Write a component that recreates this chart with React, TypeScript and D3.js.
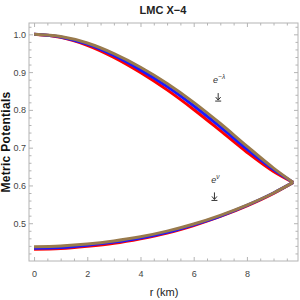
import * as d3 from 'd3';
import { useEffect, useRef } from 'react';

const radius = [0, 1, 2, 3, 4, 5, 6, 7, 8, 9, 9.74];

// e^{-lambda} for the three models
const lambdaRed = [1.0, 0.992, 0.971, 0.939, 0.899, 0.853, 0.801, 0.745, 0.688, 0.637, 0.608];
const lambdaBlue = [1.0, 0.993, 0.974, 0.944, 0.906, 0.862, 0.811, 0.755, 0.696, 0.642, 0.608];
const lambdaBrown = [1.0, 0.994, 0.977, 0.949, 0.913, 0.87, 0.82, 0.764, 0.704, 0.646, 0.608];

// e^{nu}
const nuRed = [0.431, 0.433, 0.439, 0.447, 0.459, 0.474, 0.494, 0.518, 0.546, 0.579, 0.608];
const nuBlue = [0.434, 0.436, 0.442, 0.45, 0.461, 0.476, 0.496, 0.519, 0.547, 0.58, 0.608];
const nuBrown = [0.438, 0.44, 0.445, 0.453, 0.464, 0.479, 0.498, 0.521, 0.548, 0.58, 0.608];

const xMajor = [0, 2, 4, 6, 8];
const yMajor = [0.5, 0.6, 0.7, 0.8, 0.9, 1.0];

const series = [
  { name: 'red', color: '#ff0000', lambda: lambdaRed, nu: nuRed },
  { name: 'blue', color: '#1a1aff', lambda: lambdaBlue, nu: nuBlue },
  { name: 'brown', color: '#997a4c', lambda: lambdaBrown, nu: nuBrown },
];

export default function App(): React.ReactElement {
  const svgRef = useRef<SVGSVGElement>(null);

  useEffect(() => {
    if (!svgRef.current) return;
    const svg = d3.select(svgRef.current);
    svg.selectAll('*').remove();

    const left = 29;
    const right = 298;
    const top = 23;
    const bottom = 261;

    const x = d3.scaleLinear().domain([-0.19, 9.92]).range([left, right]);
    const y = d3.scaleLinear().domain([0.4, 1.03]).range([bottom, top]);

    const frameColor = '#b4b4b4';
    const labelColor = '#444';
    const font = 'Liberation Sans, Arial, sans-serif';

    // frame
    svg
      .append('rect')
      .attr('x', left)
      .attr('y', top)
      .attr('width', right - left)
      .attr('height', bottom - top)
      .attr('fill', 'none')
      .attr('stroke', frameColor)
      .attr('stroke-width', 1);

    const xMinor = d3.range(0, 10, 0.5).filter((v) => !xMajor.includes(v));
    const yMinor = d3.range(0.42, 1.03, 0.02).filter((v) => !yMajor.some((m) => Math.abs(m - v) < 1e-6));

    const styleAxis = (g: d3.Selection<SVGGElement, unknown, null, undefined>) => {
      g.select('.domain').remove();
      g.selectAll('.tick line').attr('stroke', frameColor);
      g.selectAll('.tick text')
        .attr('fill', labelColor)
        .style('font-family', font)
        .style('font-size', '9px');
    };

    // bottom axis
    svg
      .append('g')
      .attr('transform', `translate(0,${bottom})`)
      .call(d3.axisBottom(x).tickValues(xMajor).tickSize(-4).tickPadding(10).tickFormat(d3.format('d')))
      .call(styleAxis);
    svg
      .append('g')
      .attr('transform', `translate(0,${bottom})`)
      .call(d3.axisBottom(x).tickValues(xMinor).tickSize(-2.5).tickFormat(() => ''))
      .call(styleAxis);
    // top axis
    svg
      .append('g')
      .attr('transform', `translate(0,${top})`)
      .call(d3.axisTop(x).tickValues(xMajor).tickSize(-4).tickFormat(() => ''))
      .call(styleAxis);
    svg
      .append('g')
      .attr('transform', `translate(0,${top})`)
      .call(d3.axisTop(x).tickValues(xMinor).tickSize(-2.5).tickFormat(() => ''))
      .call(styleAxis);
    // left axis
    svg
      .append('g')
      .attr('transform', `translate(${left},0)`)
      .call(d3.axisLeft(y).tickValues(yMajor).tickSize(-4).tickPadding(3).tickFormat(d3.format('.1f')))
      .call(styleAxis);
    svg
      .append('g')
      .attr('transform', `translate(${left},0)`)
      .call(d3.axisLeft(y).tickValues(yMinor).tickSize(-2.5).tickFormat(() => ''))
      .call(styleAxis);
    // right axis
    svg
      .append('g')
      .attr('transform', `translate(${right},0)`)
      .call(d3.axisRight(y).tickValues(yMajor).tickSize(-4).tickFormat(() => ''))
      .call(styleAxis);
    svg
      .append('g')
      .attr('transform', `translate(${right},0)`)
      .call(d3.axisRight(y).tickValues(yMinor).tickSize(-2.5).tickFormat(() => ''))
      .call(styleAxis);

    // curves
    const line = d3
      .line<number>()
      .x((_, i) => x(radius[i]))
      .y((d) => y(d))
      .curve(d3.curveMonotoneX);

    series.forEach((s) => {
      [s.lambda, s.nu].forEach((vals) => {
        svg
          .append('path')
          .attr('d', line(vals) || '')
          .attr('fill', 'none')
          .attr('stroke', s.color)
          .attr('stroke-width', 3);
      });
    });

    // annotations
    const note = (px: number, py: number, sup: string) => {
      const t = svg
        .append('text')
        .attr('x', px)
        .attr('y', py)
        .attr('fill', '#333')
        .style('font-family', font)
        .style('font-style', 'italic')
        .style('font-size', '9px');
      t.append('tspan').text('e');
      t.append('tspan').attr('dy', -4).style('font-size', '6.5px').text(sup);
    };
    note(x(6.73), y(0.871), '−λ');
    note(x(6.66), y(0.606), 'ν');

    // small down arrows under the labels
    const arrow = (px: number, py: number) => {
      svg
        .append('line')
        .attr('x1', px)
        .attr('x2', px)
        .attr('y1', py - 7)
        .attr('y2', py)
        .attr('stroke', '#333')
        .attr('stroke-width', 1);
      svg
        .append('path')
        .attr('d', `M${px - 2.5},${py - 3}L${px},${py}L${px + 2.5},${py - 3}`)
        .attr('fill', 'none')
        .attr('stroke', '#333')
        .attr('stroke-width', 1);
      svg
        .append('line')
        .attr('x1', px - 3)
        .attr('x2', px + 3)
        .attr('y1', py + 1)
        .attr('y2', py + 1)
        .attr('stroke', '#333')
        .attr('stroke-width', 1);
    };
    arrow(x(6.92), y(0.826));
    arrow(x(6.78), y(0.563));

    // title
    svg
      .append('text')
      .attr('x', 163)
      .attr('y', 14)
      .attr('text-anchor', 'middle')
      .attr('fill', '#222')
      .style('font-family', font)
      .style('font-weight', 'bold')
      .style('font-size', '11px')
      .text('LMC X−4');

    // axis labels
    svg
      .append('text')
      .attr('x', 164)
      .attr('y', 296)
      .attr('text-anchor', 'middle')
      .attr('fill', '#222')
      .style('font-family', font)
      .style('font-size', '11px')
      .text('r (km)');

    svg
      .append('text')
      .attr('transform', `translate(10,${(top + bottom) / 2}) rotate(-90)`)
      .attr('text-anchor', 'middle')
      .attr('fill', '#111')
      .style('font-family', font)
      .style('font-weight', 'bold')
      .style('font-size', '12px')
      .style('letter-spacing', '0.3px')
      .text('Metric Potentials');
  }, []);

  return (
    <svg
      ref={svgRef}
      width={300}
      height={300}
      style={{ position: 'fixed', left: 0, top: 0, background: '#fff' }}
    />
  );
}
